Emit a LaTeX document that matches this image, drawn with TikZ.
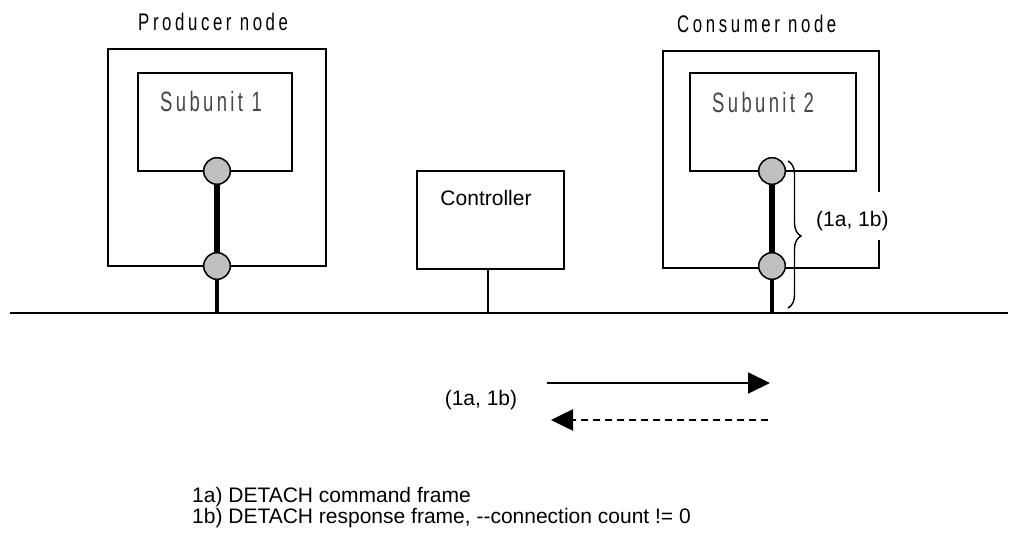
\documentclass[tikz,border=0pt]{standalone}
\usepackage{fontspec}
\setmainfont{Liberation Sans}
\newfontfamily\titlefont[FakeStretch=0.7,LetterSpace=15]{Liberation Sans}
\newfontfamily\unitfont[FakeStretch=0.66,LetterSpace=12]{Liberation Sans}
\usetikzlibrary{arrows.meta,decorations.pathreplacing}
\definecolor{plugfill}{RGB}{192,192,192}
\begin{document}
\begin{tikzpicture}[x=1pt,y=-1pt,
  box/.style={draw,line width=1.7pt},
  plug/.style={circle,draw,line width=1.4pt,fill=plugfill,minimum size=26.5pt,inner sep=0pt},
  stem/.style={line width=6pt},
  tail/.style={line width=4.5pt},
  title/.style={font=\titlefont\fontsize{24}{26}\selectfont},
  unit/.style={font=\unitfont\fontsize{28}{30}\selectfont,text=black!72},
  plain/.style={font=\fontsize{21}{24}\selectfont},
  legend/.style={font=\fontsize{21}{19.5}\selectfont,align=left,anchor=north west,inner sep=0pt},
  head/.style={-{Triangle[length=22pt,width=21pt]}}]
\useasboundingbox (0,0) rectangle (1009,533);

% bus
\draw[line width=2.4pt] (10,313) -- (1008,313);

% producer node
\node[title,anchor=base west,inner sep=0pt] (ptitle) at (138,30) {Producer node};
\draw[box] (108,49) rectangle (326,266);
\draw[box] (138,73) rectangle (292,171);
\node[unit,anchor=base west,inner sep=0pt] (s1) at (160,111) {Subunit 1};
\node[plug] (p1) at (217,171) {};
\node[plug] (p2) at (217,266) {};
\coordinate (pb) at (217,313);
\draw[stem] (p1.south) -- (p2.north);
\draw[tail] (p2.south) -- (pb);
\node[plug] at (217,171) {};
\node[plug] at (217,266) {};

% controller
\draw[box] (417,171) rectangle (564,269);
\node[plain,anchor=base] (ctl) at (486,205) {Controller};
\coordinate (ct) at (488,269);
\coordinate (cb) at (488,313);
\draw[line width=1.6pt] (ct) -- (cb);

% consumer node
\node[title,anchor=base west,inner sep=0pt] (ctitle) at (677,32) {Consumer node};
\draw[box] (879,192) -- (879,51) -- (663,51) -- (663,268) -- (879,268) -- (879,240);
\draw[box] (690,73) rectangle (856,171);
\node[unit,anchor=base west,inner sep=0pt] (s2) at (712,112) {Subunit 2};
\coordinate (cbus) at (772,313);
\node[plug] (c1) at (772,171) {};
\node[plug] (c2) at (772,266) {};
\draw[stem] (c1.south) -- (c2.north);
\draw[tail] (c2.south) -- (cbus);
\node[plug] at (772,171) {};
\node[plug] at (772,266) {};

% brace beside the consumer connection
\coordinate (bt) at (788,161);
\coordinate (bb) at (788,308);
\draw[line width=1.4pt,decorate,decoration={brace,amplitude=13pt,aspect=0.51}] (bt) -- (bb);
\node[plain,anchor=west,inner sep=0pt] (blabel) at (816,221) {(1a, 1b)};

% frame arrows
\coordinate (a1) at (547,383);
\coordinate (a2) at (770,383);
\coordinate (b1) at (768,420);
\coordinate (b2) at (551,420);
\draw[line width=1.8pt,head] (a1) -- (a2);
\draw[line width=2.6pt,dash pattern=on 7pt off 5pt,head] (b1) -- (b2);
\node[plain] (alabel) at (481,400) {(1a, 1b)};

% legend
\node[legend] (leg) at (192,487.5) {1a) DETACH command frame\\1b) DETACH response frame, {-}{-}connection count != 0};
\end{tikzpicture}
\end{document}
